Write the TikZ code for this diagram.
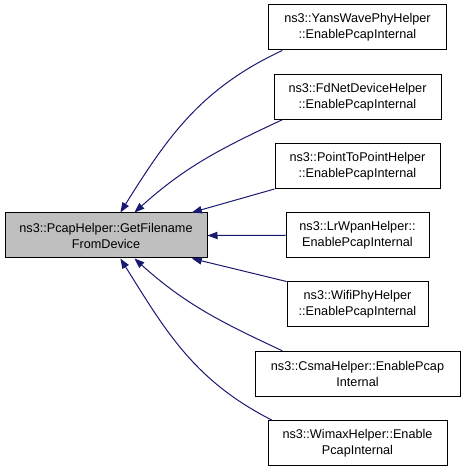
\documentclass[tikz,border=0pt]{standalone}
\usepackage{fontspec}
\setmainfont{Liberation Sans}
\usetikzlibrary{arrows.meta}
\definecolor{edgeblue}{RGB}{25, 25, 112}
\definecolor{mainfill}{RGB}{191, 191, 191}

\begin{document}
\begin{tikzpicture}[x=0.75pt, y=0.75pt,
    box/.style={draw=black, line width=0.75pt, align=center, inner sep=0pt,
                minimum height=33.75pt, font=\fontsize{9.5}{12}\selectfont},
    caller/.style={edgeblue, line width=0.75pt, -{Triangle[length=7.5pt, width=5.5pt]}}]
  \useasboundingbox (0, 0) rectangle (464, 472);

  \node[box, fill=mainfill, minimum width=151.5pt] (main) at (106, 236.5)
    {ns3::PcapHelper::GetFilename\\FromDevice};

  \foreach [count=\n] \nm/\w/\txt in {
      yans/133.5pt/{ns3::YansWavePhyHelper\\::EnablePcapInternal},
      fdnet/125.25pt/{ns3::FdNetDeviceHelper\\::EnablePcapInternal},
      ptp/123.75pt/{ns3::PointToPointHelper\\::EnablePcapInternal},
      lrwpan/107.25pt/{ns3::LrWpanHelper::\\EnablePcapInternal},
      wifi/105.75pt/{ns3::WifiPhyHelper\\::EnablePcapInternal},
      csma/153.75pt/{ns3::CsmaHelper::EnablePcap\\Internal},
      wimax/134.25pt/{ns3::WimaxHelper::Enable\\PcapInternal}} {
    \pgfmathsetmacro{\y}{444.5 - 69.25 * (\n - 1)};
    \node[box, minimum width=\w] (\nm) at (357.5, \y) {\txt};
  }

  % callers point back to the helper
  \draw[caller] (yans.197) to[out=205, in=58] (main.58);
  \draw[caller] (fdnet.197) to[out=205, in=42] (main.39);
  \draw[caller] (ptp.south west) -- (main.15);
  \draw[caller] (lrwpan.west) -- (main.east);
  \draw[caller] (wifi.north west) -- (main.-15);
  \draw[caller] (csma.163) to[out=155, in=-42] (main.-39);
  \draw[caller] (wimax.165) to[out=153, in=-58] (main.-58);
\end{tikzpicture}
\end{document}
